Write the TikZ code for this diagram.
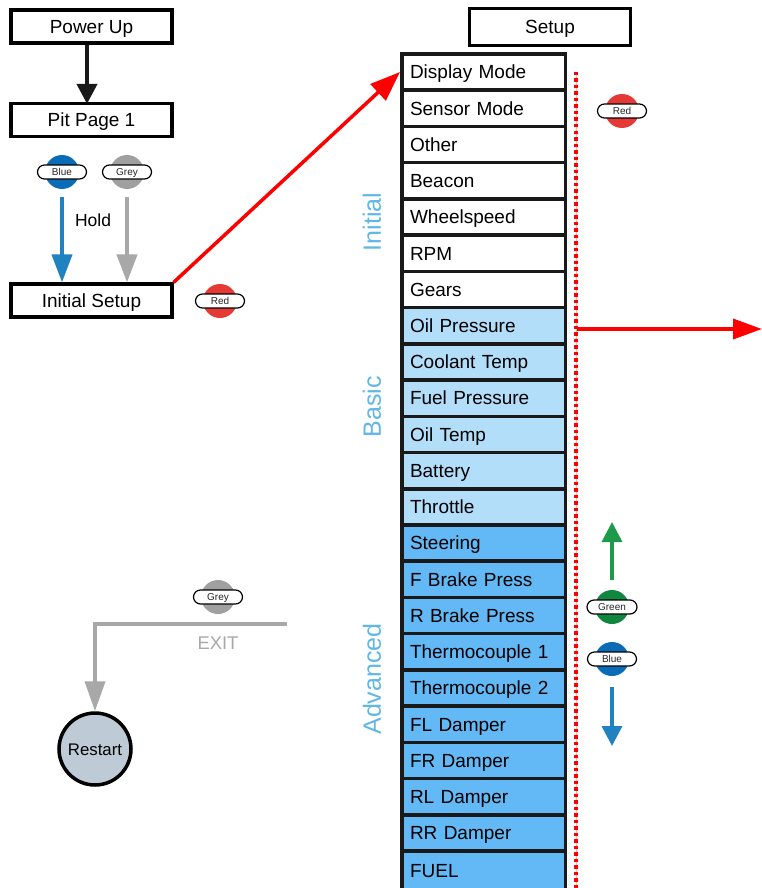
\documentclass[tikz,border=0pt]{standalone}
\usepackage{fontspec}
\setmainfont{Liberation Sans}
\usetikzlibrary{arrows.meta}
\definecolor{cellLight}{RGB}{179,222,250}
\definecolor{cellDark}{RGB}{99,185,246}
\definecolor{lblBlue}{RGB}{96,182,230}
\definecolor{ballBlue}{RGB}{10,107,182}
\definecolor{arrBlue}{RGB}{33,130,192}
\definecolor{ballGrey}{RGB}{160,160,160}
\definecolor{arrGrey}{RGB}{168,168,168}
\definecolor{ballRed}{RGB}{229,57,53}
\definecolor{ballGreen}{RGB}{16,134,62}
\definecolor{arrGreen}{RGB}{30,155,74}
\definecolor{restartFill}{RGB}{190,203,214}
\definecolor{lineRed}{RGB}{255,0,0}
\tikzset{
  flowbox/.style={draw=black, line width=3.2pt, fill=white, minimum width=161, minimum height=33, inner sep=0pt, text height=13.6pt, text depth=0pt, font=\fontsize{19}{22}\selectfont},
  cell/.style={draw=black!90, line width=3.5pt, minimum height=36.24, text width=147pt, align=left, inner xsep=8.25pt, inner ysep=0pt, text height=13.6pt, text depth=0pt, font=\fontsize{19}{22}\selectfont},
  ball/.style={circle, minimum size=34, inner sep=0pt},
  pill/.style={draw=black, fill=white, line width=1.2pt, rounded corners=7pt, minimum width=49, minimum height=14, inner sep=0pt, text height=7.2pt, text depth=0pt, font=\fontsize{10}{11}\selectfont, text=black!85},
  sidelabel/.style={rotate=90, text=lblBlue, font=\fontsize{25}{28}\selectfont},
  bigarrow/.style={-{Triangle[width=20pt,length=28pt]}},
  smallarrow/.style={-{Triangle[width=20pt,length=20pt]}}
}
\begin{document}
\begin{tikzpicture}[x=1pt,y=-1pt]
\useasboundingbox (0,0) rectangle (762,888);

% left flow
\node[flowbox] (pu) at (91.5,26.5) {Power Up};
\node[flowbox] (pp) at (91.5,120) {Pit Page 1};
\node[flowbox] (is) at (91.5,300.5) {Initial Setup};
\draw[line width=4pt, black!90, smallarrow] ([xshift=-4.5pt]pu.south) -- ([xshift=-4.5pt,yshift=-2pt]pp.north);

\node[ball, fill=ballBlue] (bb) at (62,172) {};
\node[pill] (bbl) at (bb) {Blue};
\node[ball, fill=ballGrey] (gb) at (127,172) {};
\node[pill] (gbl) at (gb) {Grey};
\draw[line width=4pt, arrBlue, bigarrow, shorten <=8pt] (bb.south) -- (bb.south |- is.north);
\draw[line width=4pt, arrGrey, bigarrow, shorten <=8pt] (gb.south) -- (gb.south |- is.north);
\node[font=\fontsize{17.5}{20}\selectfont] (hold) at (93,220) {Hold};

\node[ball, fill=ballRed] (rb1) at (220,301) {};
\node[pill] (rb1l) at (rb1) {Red};

% Setup header
\node[flowbox, minimum height=37] (setup) at (550,27) {Setup};

% list cells
\foreach \t [count=\i from 0] in {Display Mode, Sensor Mode, Other, Beacon, Wheelspeed, RPM, Gears}
  \node[cell, fill=white] (c\i) at (483.5,72+36.24*\i) {\t};
\foreach \t [count=\i from 7] in {Oil Pressure, Coolant Temp, Fuel Pressure, Oil Temp, Battery, Throttle}
  \node[cell, fill=cellLight] (c\i) at (483.5,72+36.24*\i) {\t};
\foreach \t [count=\i from 13] in {Steering, F Brake Press, R Brake Press, Thermocouple 1, Thermocouple 2, FL Damper, FR Damper, RL Damper, RR Damper}
  \node[cell, fill=cellDark] (c\i) at (483.5,72+36.24*\i) {\t};
\node[cell, fill=cellDark, minimum height=40] (c22) at (483.5,871) {FUEL};

% side labels
\node[sidelabel] (lInit) at (372,222) {Initial};
\node[sidelabel] (lBasic) at (372,407) {Basic};
\node[sidelabel] (lAdv) at (372,679) {Advanced};

% red diagonal arrow
\draw[line width=3.5pt, lineRed, -{Triangle[width=22pt,length=30pt]}] (is.north east) -- (c0.west);

% red dotted line
\coordinate (dtop) at (576,72);
\coordinate (dbot) at (576,888);
\draw[line width=0.8pt, red!30] (dtop) -- (dbot);
\draw[line width=3.5pt, lineRed, dash pattern=on 3.5pt off 3pt] (dtop) -- (dbot);

\node[ball, fill=ballRed] (rb2) at (622,111) {};
\node[pill] (rb2l) at (rb2) {Red};

% red right arrow
\coordinate (rs) at (577,329);
\coordinate (re) at (762,329);
\draw[line width=3.5pt, lineRed, -{Triangle[width=20pt,length=29pt]}] (rs) -- (re);

% green / blue
\node[ball, fill=ballGreen] (grb) at (612,607) {};
\node[pill, minimum width=50] (grbl) at (grb) {Green};
\node[ball, fill=ballBlue] (blb) at (612,659) {};
\node[pill] (blbl) at (blb) {Blue};
\coordinate (gup) at (612,522);
\coordinate (bdn) at (612,746);
\draw[line width=3.5pt, arrGreen, smallarrow, shorten <=10pt] (grb.north) -- (gup);
\draw[line width=3.5pt, arrBlue, smallarrow, shorten <=11pt] (blb.south) -- (bdn);

% exit
\node[ball, fill=ballGrey] (gb2) at (218,597) {};
\node[pill] (gb2l) at (gb2) {Grey};
\node[circle, draw=black, line width=3.5pt, fill=restartFill, minimum size=72, inner sep=0pt, text height=12pt, text depth=0pt, font=\fontsize{16.8}{19}\selectfont] (restart) at (95,749) {Restart};
\coordinate (exs) at (287,624);
\draw[line width=4pt, arrGrey, -{Triangle[width=20pt,length=30pt]}] (exs) -- (restart.north |- exs) -- (restart.north);
\node[text=arrGrey, font=\fontsize{18.4}{21}\selectfont] (exit) at (218,643) {EXIT};
\end{tikzpicture}
\end{document}
